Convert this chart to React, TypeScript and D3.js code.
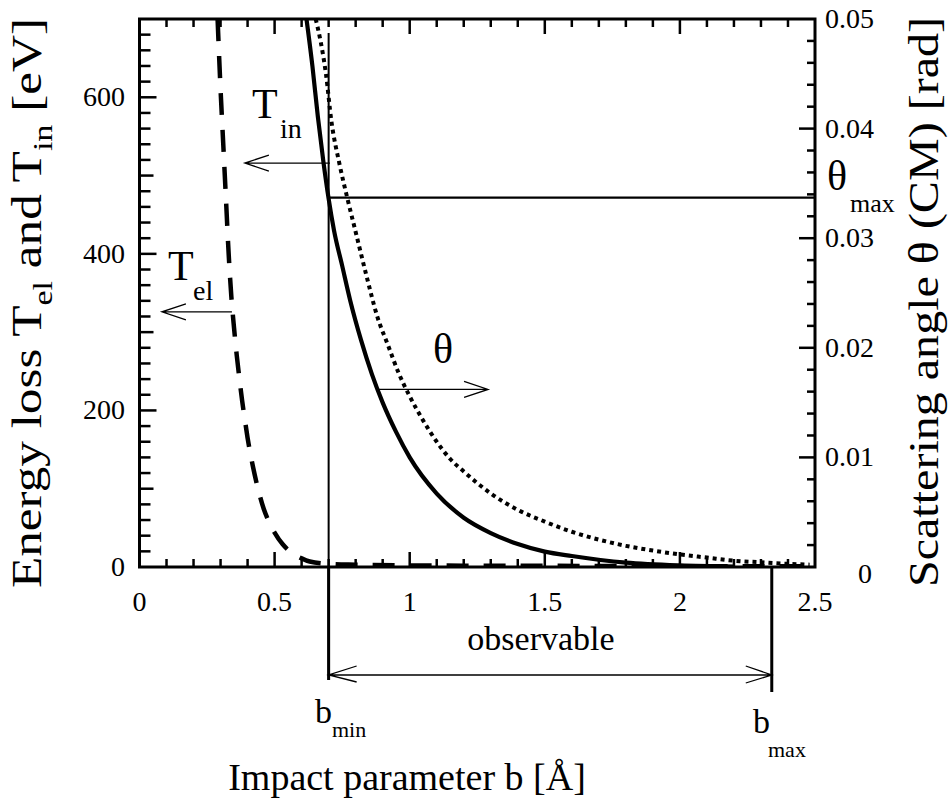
import React from "react";
import * as d3 from "d3";

// T_el (elastic energy loss, left axis) – dashed curve
const bEl = [0.289, 0.3, 0.31, 0.32, 0.33, 0.34, 0.35, 0.36, 0.37, 0.38, 0.39, 0.4, 0.42, 0.44, 0.46, 0.48, 0.5, 0.53, 0.56, 0.6, 0.63, 0.7, 0.8, 1.0, 1.5, 2.0, 2.5];
const tEl = [700, 610, 540, 470, 400, 345, 305, 270, 240, 212, 188, 165, 128, 98, 74, 57, 44, 29, 19, 11, 7, 4, 3, 2, 1.5, 1, 1];

// T_in (inelastic energy loss, left axis) – dotted curve
const bIn = [0.652, 0.67, 0.69, 0.71, 0.74, 0.77, 0.8, 0.84, 0.88, 0.92, 0.96, 1.0, 1.05, 1.1, 1.15, 1.2, 1.3, 1.4, 1.5, 1.6, 1.7, 1.8, 1.9, 2.0, 2.1, 2.2, 2.3, 2.4, 2.48];
const tIn = [700, 672, 630, 570, 515, 470, 428, 372, 320, 283, 247, 218, 187, 160, 138, 122, 94, 73, 58, 45, 35, 27, 21, 16, 12, 8, 6, 4, 3];

// Scattering angle theta (right axis) – solid curve
const bTheta = [0.618, 0.64, 0.66, 0.68, 0.7, 0.72, 0.75, 0.78, 0.82, 0.86, 0.9, 0.95, 1.0, 1.1, 1.2, 1.3, 1.4, 1.5, 1.6, 1.8, 2.0, 2.2];
const theta = [0.05, 0.0457, 0.0411, 0.0371, 0.0336, 0.0307, 0.0275, 0.0243, 0.0207, 0.0176, 0.015, 0.0123, 0.01, 0.0067, 0.0045, 0.0031, 0.0021, 0.0014, 0.001, 0.0004, 0.00014, 0.00004];

const xTickValues = [0, 0.5, 1, 1.5, 2, 2.5];
const xTickLabels = ["0", "0.5", "1", "1.5", "2", "2.5"];
const leftTickValues = [0, 200, 400, 600];
const leftTickLabels = ["0", "200", "400", "600"];
const rightTickValues = [0, 0.01, 0.02, 0.03, 0.04, 0.05];
const rightTickLabels = ["0", "0.01", "0.02", "0.03", "0.04", "0.05"];

const bMin = 0.7;
const bMax = 2.34;
const thetaMax = 0.0337;
const tInArrow = { level: 516, from: 0.705, to: 0.39 };
const tElArrow = { level: 326, from: 0.342, to: 0.083 };
const thetaArrow = { level: 0.0162, from: 0.877, to: 1.29 };

const FONT = "'Liberation Serif', 'Times New Roman', 'DejaVu Serif', serif";

export default function App() {
  const W = 951, H = 809;
  const L = 139.5, R = 815, T = 19, B = 567;
  const x = d3.scaleLinear().domain([0, 2.5]).range([L, R]);
  const yL = d3.scaleLinear().domain([0, 700]).range([B, T]);
  const yR = d3.scaleLinear().domain([0, 0.05]).range([B, T]);

  const lineL = d3.line<[number, number]>().x(d => x(d[0])).y(d => yL(d[1])).curve(d3.curveMonotoneX);
  const lineR = d3.line<[number, number]>().x(d => x(d[0])).y(d => yR(d[1])).curve(d3.curveMonotoneX);

  const elPath = lineL(bEl.map((b, i) => [b, tEl[i]] as [number, number])) || "";
  const inPath = lineL(bIn.map((b, i) => [b, tIn[i]] as [number, number])) || "";
  const thPath = lineR(bTheta.map((b, i) => [b, theta[i]] as [number, number])) || "";

  // ticks
  const xMinor = d3.range(1, 25).map(i => i / 10);
  const leftMinor = d3.range(1, 35).map(i => i * 20);
  const rightMinor = d3.range(1, 25).map(i => i * 0.002);

  const arrowLeft = (tipX: number, tailX: number, y: number) =>
    `M${tailX},${y}L${tipX},${y}M${tipX + 24},${y - 8}L${tipX},${y}L${tipX + 24},${y + 8}`;
  const arrowRight = (tipX: number, tailX: number, y: number) =>
    `M${tailX},${y}L${tipX},${y}M${tipX - 24},${y - 8}L${tipX},${y}L${tipX - 24},${y + 8}`;

  const obsY = 675;

  return (
    <svg width={W} height={H} style={{ position: "absolute", left: 0, top: 0, background: "#fff" }} fontFamily={FONT}>
      <rect x={0} y={0} width={W} height={H} fill="#fff" />
      <defs>
        <clipPath id="plot">
          <rect x={L} y={T} width={R - L} height={B - T} />
        </clipPath>
      </defs>

      {/* ticks bottom & top */}
      {xMinor.map(v => {
        const major = Math.abs(v * 2 - Math.round(v * 2)) < 1e-6;
        const len = major ? 15 : 8;
        return (
          <g key={"xt" + v}>
            <line x1={x(v)} x2={x(v)} y1={B} y2={B - len} stroke="#000" strokeWidth={2.5} />
            <line x1={x(v)} x2={x(v)} y1={T} y2={T + len} stroke="#000" strokeWidth={2.5} />
          </g>
        );
      })}
      {leftMinor.map(v => {
        const len = v % 200 === 0 ? 17 : v % 100 === 0 ? 14 : 11;
        return <line key={"lt" + v} x1={L} x2={L + len} y1={yL(v)} y2={yL(v)} stroke="#000" strokeWidth={2.5} />;
      })}
      {rightMinor.map((v, i) => {
        const major = (i + 1) % 5 === 0;
        const len = major ? 16 : 8;
        return <line key={"rt" + i} x1={R} x2={R - len} y1={yR(v)} y2={yR(v)} stroke="#000" strokeWidth={2.5} />;
      })}

      {/* curves */}
      <g clipPath="url(#plot)" fill="none" stroke="#000">
        <path d={elPath} strokeWidth={4.5} strokeDasharray="22,15" />
        <path d={inPath} strokeWidth={4} strokeDasharray="4,4" />
        <path d={thPath} strokeWidth={4.2} />
      </g>

      {/* theta_max horizontal and b_min vertical */}
      <line x1={x(bMin)} x2={R} y1={yR(thetaMax)} y2={yR(thetaMax)} stroke="#000" strokeWidth={2.2} />
      <line x1={x(bMin)} x2={x(bMin)} y1={yL(682)} y2={obsY + 5} stroke="#000" strokeWidth={2} />
      <line x1={x(bMin)} x2={x(bMin)} y1={B} y2={obsY + 5} stroke="#000" strokeWidth={3} />
      <line x1={x(bMax)} x2={x(bMax)} y1={B} y2={obsY + 17} stroke="#000" strokeWidth={3} />

      {/* frame */}
      <rect x={L} y={T} width={R - L} height={B - T} fill="none" stroke="#000" strokeWidth={3} />

      {/* arrows */}
      <path d={arrowLeft(x(tInArrow.to), x(tInArrow.from), yL(tInArrow.level))} fill="none" stroke="#000" strokeWidth={1.3} />
      <path d={arrowLeft(x(tElArrow.to), x(tElArrow.from), yL(tElArrow.level))} fill="none" stroke="#000" strokeWidth={1.3} />
      <path d={arrowRight(x(thetaArrow.to), x(thetaArrow.from), yR(thetaArrow.level))} fill="none" stroke="#000" strokeWidth={1.3} />
      <path
        d={`M${x(bMin)},${obsY}L${x(bMax)},${obsY}M${x(bMin) + 28},${obsY - 9}L${x(bMin)},${obsY}L${x(bMin) + 28},${obsY + 7}M${x(bMax) - 26},${obsY - 9}L${x(bMax)},${obsY}L${x(bMax) - 26},${obsY + 8}`}
        fill="none" stroke="#000" strokeWidth={1.3} />

      {/* tick labels */}
      {xTickValues.map((v, i) => (
        <text key={"xl" + i} x={x(v)} y={611} textAnchor="middle" fontSize={28}>{xTickLabels[i]}</text>
      ))}
      {leftTickValues.map((v, i) => (
        <text key={"ll" + i} x={125} y={yL(v) + 9} textAnchor="end" fontSize={28}>{leftTickLabels[i]}</text>
      ))}
      {rightTickValues.map((v, i) => (
        v === 0
          ? <text key={"rl" + i} x={858} y={583} fontSize={28}>{rightTickLabels[i]}</text>
          : <text key={"rl" + i} x={825} y={yR(v) + 9} fontSize={28}>{rightTickLabels[i]}</text>
      ))}

      {/* annotation labels */}
      <text x={252} y={118} fontSize={42}>T</text>
      <text x={280} y={138} fontSize={28}>in</text>
      <text x={168} y={280} fontSize={42}>T</text>
      <text x={193} y={300} fontSize={28}>el</text>
      <text x={433} y={363} fontSize={42}>θ</text>
      <text x={827} y={190} fontSize={42}>θ</text>
      <text x={850} y={212} fontSize={26}>max</text>
      <text x={541} y={650} textAnchor="middle" fontSize={34}>observable</text>
      <text x={315} y={723} fontSize={34}>b</text>
      <text x={332} y={737} fontSize={22}>min</text>
      <text x={753} y={733} fontSize={34}>b</text>
      <text x={768} y={757} fontSize={22}>max</text>

      {/* axis titles */}
      <text x={407} y={790} textAnchor="middle" fontSize={38}>Impact parameter b [Å]</text>
      <text transform="translate(41,303) rotate(-90)" textAnchor="middle" fontSize={42} textLength={570} lengthAdjust="spacingAndGlyphs">
        Energy loss T<tspan dy={11} fontSize={28}>el</tspan><tspan dy={-11}> and T</tspan><tspan dy={11} fontSize={28}>in</tspan><tspan dy={-11}> [eV]</tspan>
      </text>
      <text transform="translate(938,302) rotate(-90)" textAnchor="middle" fontSize={42} textLength={570} lengthAdjust="spacingAndGlyphs">Scattering angle θ (CM) [rad]</text>
    </svg>
  );
}
